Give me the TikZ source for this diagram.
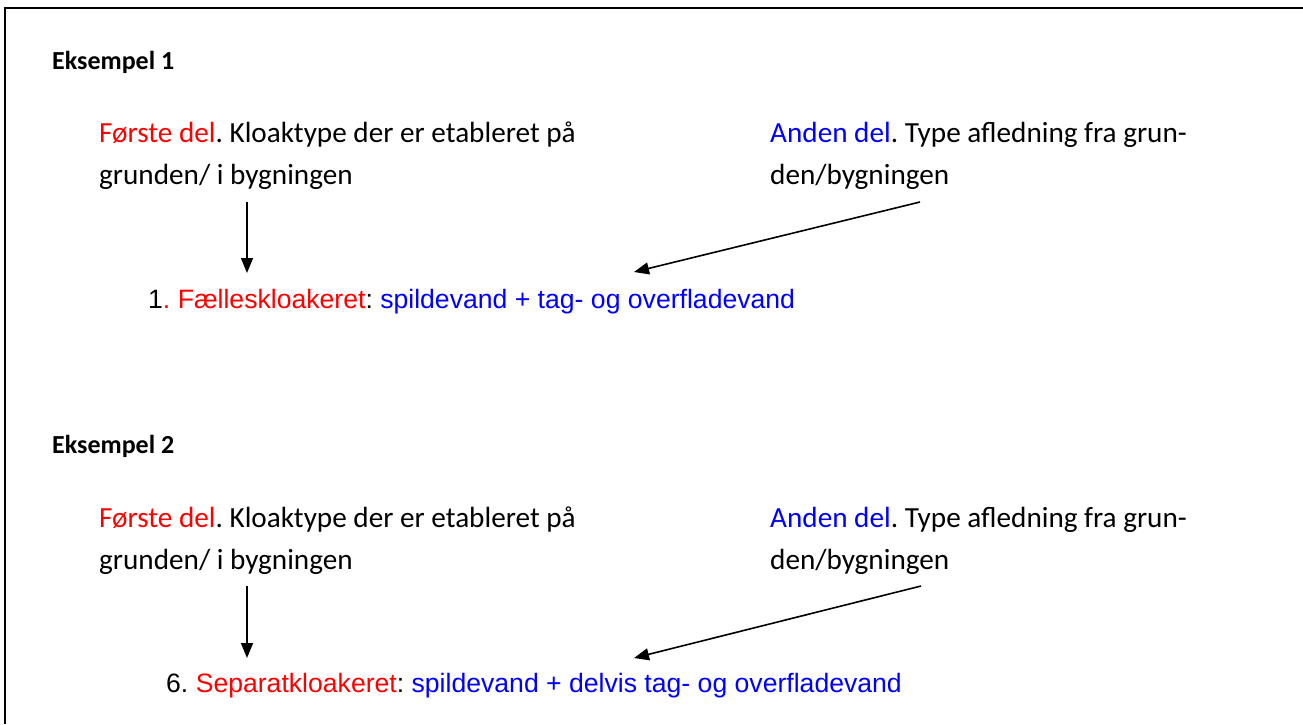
\documentclass[tikz,border=0pt]{standalone}
\usepackage{fontspec}
\setmainfont{Carlito}
\newfontfamily\arialfont{Liberation Sans}
\usetikzlibrary{arrows.meta}
\definecolor{myred}{RGB}{255,0,0}
\definecolor{myblue}{RGB}{0,0,255}
\frenchspacing
\tikzset{
  body/.style={anchor=base west,inner sep=0pt,font=\fontsize{29.2}{35}\selectfont\frenchspacing},
  heading/.style={anchor=base west,inner sep=0pt,font=\fontsize{26}{31}\selectfont\bfseries},
  result/.style={anchor=base west,inner sep=0pt,font=\fontsize{26.6}{32}\selectfont\arialfont\frenchspacing},
  arr/.style={line width=1.6pt,-{Triangle[length=15pt,width=12pt]}},
  frame/.style={line width=2pt}
}
\begin{document}
\begin{tikzpicture}[x=1pt,y=-1pt]
\useasboundingbox (0,0) rectangle (1303,724);
\draw[frame] (5,724) -- (5,8) -- (1303,8);
% Example 1
\node[heading] (h1) at (52,69) {Eksempel 1};
\node[body] (a1) at (99,142) {\textcolor{myred}{Første del}. Kloaktype der er etableret på};
\node[body] (a1b) at (99,184) {grunden/ i bygningen};
\node[body] (b1) at (770,142) {\textcolor{myblue}{Anden del}. Type afledning fra grun-};
\node[body] (b1b) at (770,184) {den/bygningen};
\node[result] (r1) at (148,308) {1\textcolor{myred}{. Fælleskloakeret}: \textcolor{myblue}{spildevand + tag- og overfladevand}};
\coordinate (s1) at (247,202);
\coordinate (e1) at (247,273);
\coordinate (s2) at (920,202);
\coordinate (e2) at (634,272);
\draw[arr] (s1) -- (e1);
\draw[arr] (s2) -- (e2);
% Example 2
\node[heading] (h2) at (52,453) {Eksempel 2};
\node[body] (a2) at (99,527) {\textcolor{myred}{Første del}. Kloaktype der er etableret på};
\node[body] (a2b) at (99,569) {grunden/ i bygningen};
\node[body] (b2) at (770,527) {\textcolor{myblue}{Anden del}. Type afledning fra grun-};
\node[body] (b2b) at (770,569) {den/bygningen};
\node[result] (r2) at (166,692) {6. \textcolor{myred}{Separatkloakeret}: \textcolor{myblue}{spildevand + delvis tag- og overfladevand}};
\coordinate (s3) at (247,586);
\coordinate (e3) at (247,658);
\coordinate (s4) at (921,586);
\coordinate (e4) at (634,658);
\draw[arr] (s3) -- (e3);
\draw[arr] (s4) -- (e4);
\end{tikzpicture}
\end{document}
